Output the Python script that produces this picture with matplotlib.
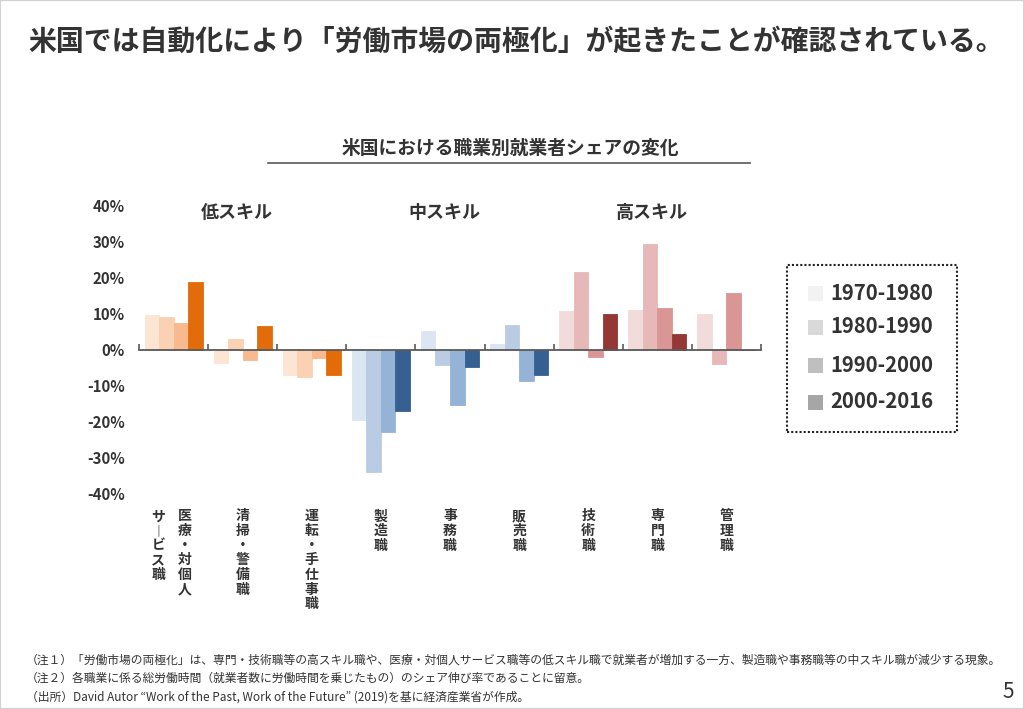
import matplotlib
matplotlib.use("Agg")
import matplotlib.pyplot as plt
from matplotlib.patches import Rectangle
from matplotlib.lines import Line2D
import numpy as np

plt.rcParams['font.family'] = ['Noto Sans CJK JP', 'DejaVu Sans']

# occupations (right column, left column of the vertical label)
occupations = [
    ("医療・対個人", "サ︱ビス職"),
    ("清掃・警備職", ""),
    ("運転・手仕事職", ""),
    ("製造職", ""),
    ("事務職", ""),
    ("販売職", ""),
    ("技術職", ""),
    ("専門職", ""),
    ("管理職", ""),
]
periods = ["1970-1980", "1980-1990", "1990-2000", "2000-2016"]

# share change (%) per period, one list per period
v_1970 = [9.5, -3.6, -7.1, -19.5, 5.1, 1.6, 10.6, 11.0, 9.8]
v_1980 = [9.0, 2.8, -7.7, -33.8, -4.4, 6.7, 21.4, 29.3, -4.1]
v_1990 = [7.2, -3.0, -2.3, -22.8, -15.4, -8.6, -2.1, 11.5, 15.7]
v_2000 = [18.6, 6.4, -7.1, -17.0, -4.9, -7.1, 9.9, 4.3, 0.0]

skill_groups = ["低スキル", "中スキル", "高スキル"]
skill_of_occ = [0, 0, 0, 1, 1, 1, 2, 2, 2]

palettes = [
    ["#FDE5D4", "#FAD1B3", "#F7B98D", "#E36C0A"],  # low skill - orange
    ["#DCE5F2", "#B9CCE4", "#95B3D7", "#366092"],  # mid skill - blue
    ["#F2DCDB", "#E6B9B8", "#D99694", "#953735"],  # high skill - red
]
legend_colors = ["#F2F2F2", "#D9D9D9", "#BFBFBF", "#A6A6A6"]

text_col = "#333333"

fig = plt.figure(figsize=(10.24, 7.09), dpi=100)
W, H = 1024, 709

def fx(px):
    return px / W

def fy(py):
    return 1 - py / H

# page frame
fig.patches.append(Rectangle((0, 0), 1, 1, transform=fig.transFigure,
                             fill=False, edgecolor="#D0D0D0", lw=1.5))

fig.text(fx(28), fy(42), "米国では自動化により「労働市場の両極化」が起きたことが確認されている。",
         fontsize=20.1, fontweight="bold", color=text_col, va="center", ha="left")

fig.text(fx(510), fy(148), "米国における職業別就業者シェアの変化",
         fontsize=13.5, fontweight="bold", color=text_col, va="center", ha="center")
fig.lines.append(Line2D([fx(268), fx(750)], [fy(163), fy(163)],
                        transform=fig.transFigure, color="#595959", lw=1.2))

ax = fig.add_axes([fx(139), fy(494), fx(761) - fx(139), fy(205) - fy(494)])

values = np.array([v_1970, v_1980, v_1990, v_2000]) / 100
x = np.arange(len(occupations))
bw = 0.21
for k in range(4):
    cols = [palettes[s][k] for s in skill_of_occ]
    ax.bar(x + (k - 1.5) * bw, values[k], width=bw, color=cols,
           edgecolor=cols, linewidth=0.6, zorder=2)

ax.set_xlim(-0.5, len(occupations) - 0.5)
ax.set_ylim(-0.4, 0.4)
ticks = np.arange(-0.4, 0.41, 0.1)
ax.set_yticks(ticks)
ax.set_yticklabels([f"{int(round(t * 100))}%" for t in ticks],
                   fontsize=10.8, fontweight="bold", color=text_col)
ax.tick_params(axis="y", length=0, pad=10)

for s in ["left", "right", "top"]:
    ax.spines[s].set_visible(False)
ax.spines["bottom"].set_position(("data", 0))
ax.spines["bottom"].set_color("#595959")
ax.spines["bottom"].set_linewidth(1.3)
ax.spines["bottom"].set_zorder(3)
ax.set_xticks(np.arange(-0.5, len(occupations), 1.0))
ax.set_xticklabels([])
ax.tick_params(axis="x", direction="in", length=4, width=1.2, color="#595959")
ax.patch.set_alpha(0)

# skill group headings
for g, name in enumerate(skill_groups):
    ax.text(g * 3 + 1 - 0.08, 0.378, name, fontsize=13, fontweight="bold",
            color=text_col, ha="center", va="center")

# vertical category labels
lab_kw = dict(xycoords=("data", "axes fraction"), textcoords="offset points",
              ha="center", va="top", fontsize=10, fontweight="bold",
              color=text_col, linespacing=1.06)
for i, (right, left) in enumerate(occupations):
    if left:
        ax.annotate("\n".join(right), xy=(i, 0), xytext=(8, -11), **lab_kw)
        ax.annotate("\n".join(left), xy=(i, 0), xytext=(-11, -11), **lab_kw)
    else:
        ax.annotate("\n".join(right), xy=(i, 0), xytext=(0, -11), **lab_kw)

# legend box
fig.patches.append(Rectangle((fx(787), fy(432)), fx(957) - fx(787), fy(265) - fy(432),
                             transform=fig.transFigure, fill=False,
                             edgecolor="#222222", lw=1.5, linestyle=(0, (1, 1))))
leg_y = [293, 327, 365, 402]
for k, lab in enumerate(periods):
    fig.patches.append(Rectangle((fx(808), fy(leg_y[k] + 7.5)), fx(15), 15 / H,
                                 transform=fig.transFigure, facecolor=legend_colors[k],
                                 edgecolor="none"))
    fig.text(fx(830), fy(leg_y[k]), lab, fontsize=14.6, fontweight="bold",
             color=text_col, ha="left", va="center")

notes = [
    "（注１）「労働市場の両極化」は、専門・技術職等の高スキル職や、医療・対個人サービス職等の低スキル職で就業者が増加する一方、製造職や事務職等の中スキル職が減少する現象。",
    "（注２）各職業に係る総労働時間（就業者数に労働時間を乗じたもの）のシェア伸び率であることに留意。",
    "（出所）David Autor “Work of the Past, Work of the Future” (2019)を基に経済産業省が作成。",
]
for j, t in enumerate(notes):
    fig.text(fx(26), fy(660 + j * 18.5), t, fontsize=8.5, color=text_col,
             ha="left", va="center")
fig.text(fx(1008), fy(692), "5", fontsize=15, color=text_col, ha="center", va="center")

fig.savefig("out.png", dpi=100)
